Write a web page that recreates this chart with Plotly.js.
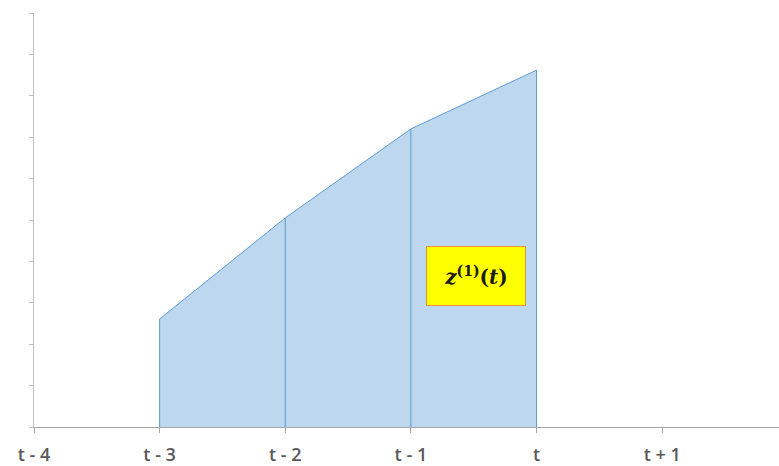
<!DOCTYPE html>
<html>
<head>
<meta charset="utf-8">
<script src="https://cdn.plot.ly/plotly-3.0.1.min.js"></script>
<style>
  html, body { margin: 0; padding: 0; background: #fff; }
  #chart { width: 779px; height: 466px; }
</style>
</head>
<body>
<div id="chart"></div>
<script>
// time steps and the area values
const tickPos = [0, 1, 2, 3, 4, 5];
const tickLabels = ['t - 4', 't - 3', 't - 2', 't - 1', 't', 't + 1'];
const stepX = [1, 2, 3, 4];
const stepY = [2.61, 5.05, 7.2, 8.62];

const blue = '#5b9bd5';
const fillBlue = '#bdd7ee';

// vertical edges of the area, one per step
const edgeX = [];
const edgeY = [];
stepX.forEach((x, i) => {
  edgeX.push(x, x, null);
  edgeY.push(0, stepY[i], null);
});

const data = [
  {
    x: stepX,
    y: stepY,
    type: 'scatter',
    mode: 'lines',
    fill: 'tozeroy',
    fillcolor: fillBlue,
    line: {color: blue, width: 1},
    hoverinfo: 'skip'
  },
  {
    x: edgeX,
    y: edgeY,
    type: 'scatter',
    mode: 'lines',
    line: {color: blue, width: 1},
    hoverinfo: 'skip'
  }
];

const layout = {
  width: 779,
  height: 466,
  margin: {l: 34, r: 0, t: 13, b: 39},
  paper_bgcolor: '#fff',
  plot_bgcolor: '#fff',
  showlegend: false,
  xaxis: {
    range: [0, 5.93],
    tickvals: tickPos,
    ticktext: tickLabels,
    ticks: 'outside',
    ticklen: 5,
    tickcolor: '#a6a6a6',
    showline: true,
    linecolor: '#a6a6a6',
    linewidth: 1,
    showgrid: false,
    zeroline: false,
    ticklabelstandoff: 6,
    tickfont: {family: 'Open Sans', size: 18, weight: 600, color: '#595959'}
  },
  yaxis: {
    range: [0, 10],
    dtick: 1,
    ticks: 'outside',
    ticklen: 4,
    tickcolor: '#bfbfbf',
    showticklabels: false,
    showline: true,
    linecolor: '#bfbfbf',
    linewidth: 1,
    showgrid: false,
    zeroline: false
  },
  annotations: [{
    x: 3.52,
    y: 3.65,
    xref: 'x',
    yref: 'y',
    showarrow: false,
    text: '<b><i>z</i><sup>(1)</sup>(<i>t</i>)</b>',
    font: {family: 'DejaVu Serif', size: 20, color: '#1a1a1a'},
    bgcolor: '#ffff00',
    bordercolor: '#e6913c',
    borderwidth: 1,
    borderpad: 2,
    width: 94,
    height: 54
  }]
};

Plotly.newPlot('chart', data, layout, {displayModeBar: false, staticPlot: true});
</script>
</body>
</html>
